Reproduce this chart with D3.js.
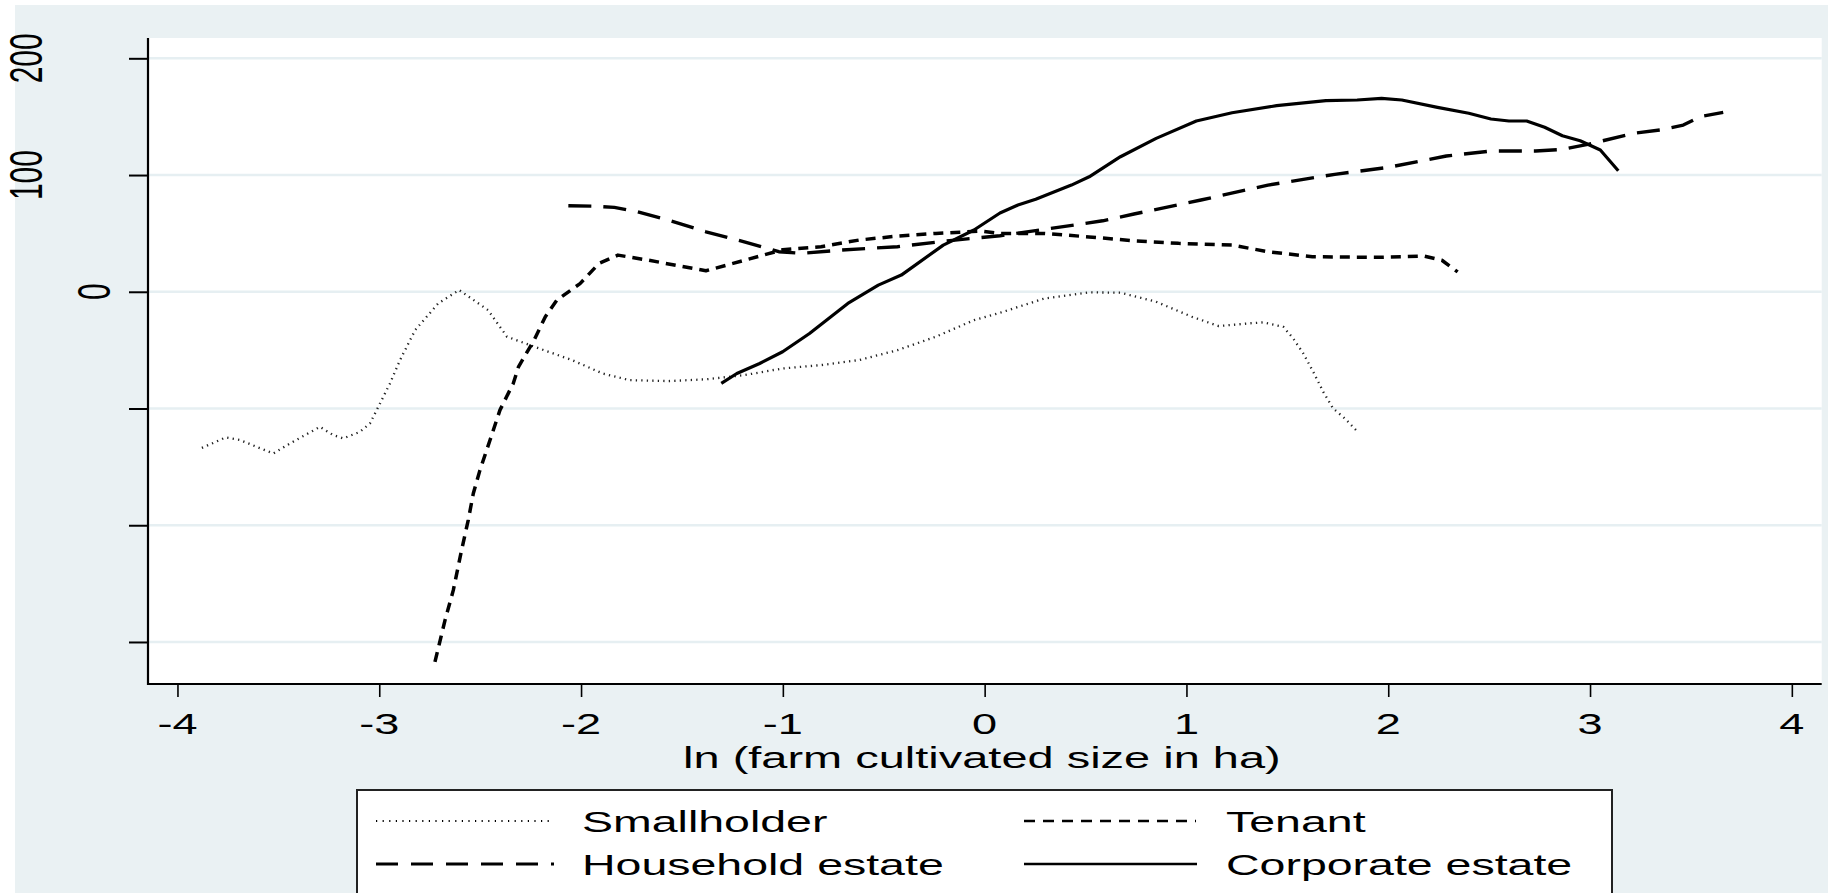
<!DOCTYPE html>
<html>
<head>
<meta charset="utf-8">
<script src="https://cdn.jsdelivr.net/npm/d3@7"></script>
<style>
html,body{margin:0;padding:0;background:#fff;}
svg{display:block;}
text{font-family:"Liberation Sans",Arial,Helvetica,sans-serif;fill:#000;}
</style>
</head>
<body>
<svg id="chart" width="1828" height="893"></svg>
<script>
// ---- data ----
const smallholderX = [-3.879,-3.761,-3.690,-3.591,-3.525,-3.443,-3.294,-3.228,-3.178,-3.096,-3.046,-2.996,-2.947,-2.897,-2.822,-2.708,-2.604,-2.461,-2.367,-2.233,-2.045,-1.893,-1.760,-1.569,-1.381,-1.191,-1.001,-0.811,-0.622,-0.432,-0.242,-0.053,0.076,0.297,0.518,0.673,0.849,1.027,1.160,1.315,1.381,1.480,1.529,1.579,1.628,1.678,1.727,1.785,1.843];
const smallholderY = [-133.7,-124.8,-127,-134,-138.5,-130,-115.7,-122.8,-125.6,-120,-112.8,-95.6,-78.5,-58.5,-32.8,-10,1.5,-15.7,-38.5,-47,-58.5,-70,-75.7,-76.5,-75,-71.4,-65.7,-62.8,-58.5,-50,-38.5,-24.3,-18,-5.7,-0.5,-0.8,-8.5,-21.4,-29.4,-27,-26.2,-30,-40,-52.8,-68.5,-85.7,-100,-108.5,-119];

const tenantX = [-2.724,-2.674,-2.633,-2.592,-2.559,-2.534,-2.501,-2.451,-2.402,-2.336,-2.310,-2.233,-2.177,-2.119,-2.005,-1.911,-1.817,-1.665,-1.381,-1.247,-1.001,-0.811,-0.623,-0.432,-0.242,-0.015,0.076,0.297,0.517,0.740,0.961,1.226,1.404,1.624,1.954,2.177,2.266,2.344];
const tenantY = [-317,-281.3,-255.6,-221.3,-195.6,-172.8,-152.8,-127,-101.4,-78.5,-64.3,-41.4,-21.4,-7,7,24.3,31.4,27,18,24.3,36,38.6,44.3,47.7,50,52,50,50,47,43.7,41.5,40,34.3,30,29.5,30.6,27,17];

const householdX = [-2.063,-1.949,-1.835,-1.721,-1.569,-1.381,-1.191,-1.020,-0.906,-0.717,-0.432,-0.147,0.076,0.297,0.585,0.740,1.072,1.404,1.735,2.001,2.288,2.509,2.730,2.863,2.995,3.214,3.346,3.462,3.545,3.660];
const householdY = [73.7,73.4,72.3,68.6,61.4,51.4,42.8,34.3,32.9,35.7,38.6,44.3,48,53.5,60.8,66.6,78.6,91.4,100.6,106.6,116.3,120.6,120.6,122,126.5,135.7,138.6,142.8,150,153.7];

const corporateX = [-1.305,-1.228,-1.115,-1.001,-0.868,-0.678,-0.527,-0.413,-0.205,-0.053,0.076,0.165,0.253,0.430,0.518,0.673,0.850,1.049,1.226,1.447,1.691,1.846,1.967,2.067,2.244,2.399,2.509,2.598,2.686,2.775,2.863,2.951,3.051,3.140];
const corporateY = [-78.5,-70,-61.4,-51.4,-35.7,-10,5.7,14.3,40,52.9,67.5,74.3,79.2,91.4,98.5,115.7,131.4,146.3,153.4,159.4,163.7,164.3,165.7,164.3,158,152.9,148,146.3,146.3,140.9,133.7,129.4,121.4,103.7];

const xTicks = [-4,-3,-2,-1,0,1,2,3,4];
const yTicks = [200,100,0,-100,-200,-300];
const yTickLabels = ["200","100","0","","",""];
const xTitle = "ln (farm cultivated size in ha)";
const seriesNames = ["Smallholder","Tenant","Household estate","Corporate estate"];

// ---- layout ----
const svg = d3.select("#chart");
const W = 1828, H = 893;
const plotL = 148, plotR = 1821.7, plotT = 38, plotB = 684;
const SX = 1.55;      // horizontal stretch of the original rendering
const FS = 30;
const bg = "#eaf1f3";

const x = d3.scaleLinear().domain([-4.146, 4.148]).range([plotL, plotR]);
const y = d3.scaleLinear().domain([-336, 217.4]).range([plotB, plotT]);

// outer background
svg.append("rect").attr("x",0).attr("y",0).attr("width",W).attr("height",H).attr("fill","#fff");
svg.append("rect").attr("x",15).attr("y",5).attr("width",W-15).attr("height",H-5).attr("fill",bg);
// plot region
svg.append("rect").attr("x",plotL).attr("y",plotT).attr("width",plotR-plotL).attr("height",plotB-plotT).attr("fill","#fff");

// gridlines
svg.append("g").selectAll("line").data(yTicks).join("line")
  .attr("x1",plotL).attr("x2",plotR)
  .attr("y1",d=>y(d)).attr("y2",d=>y(d))
  .attr("stroke","#e6eff2").attr("stroke-width",2.6);

// y axis
const yAxis = d3.axisLeft(y).tickValues(yTicks).tickSize(19).tickFormat("");
const gy = svg.append("g").attr("transform",`translate(${plotL},0)`).call(yAxis);
gy.select(".domain").remove();
gy.selectAll(".tick line").attr("stroke","#000").attr("stroke-width",2);
svg.append("line").attr("x1",plotL).attr("x2",plotL).attr("y1",plotT).attr("y2",plotB+1)
  .attr("stroke","#000").attr("stroke-width",2.2);

// y tick labels (rotated, stretched)
const yLabelBase = {"200":42,"100":42,"0":110};
svg.append("g").selectAll("text").data(yTicks.filter((d,i)=>yTickLabels[i]!=="")).join("text")
  .attr("transform",(d)=>{
    const lab = yTickLabels[yTicks.indexOf(d)];
    return `translate(${yLabelBase[lab]},${y(d)}) scale(${SX},1) rotate(-90)`;
  })
  .attr("text-anchor","middle")
  .attr("font-size",FS)
  .text(d=>yTickLabels[yTicks.indexOf(d)]);

// x axis
const xAxis = d3.axisBottom(x).tickValues(xTicks).tickSize(13).tickFormat("");
const gx = svg.append("g").attr("transform",`translate(0,${plotB})`).call(xAxis);
gx.select(".domain").remove();
gx.selectAll(".tick line").attr("stroke","#000").attr("stroke-width",1.6);
svg.append("line").attr("x1",plotL-1).attr("x2",plotR).attr("y1",plotB).attr("y2",plotB)
  .attr("stroke","#000").attr("stroke-width",2);

svg.append("g").selectAll("text").data(xTicks).join("text")
  .attr("transform",d=>`translate(${x(d)},734) scale(${SX},1)`)
  .attr("text-anchor","middle")
  .attr("font-size",FS*0.97)
  .text(d=>String(d));

svg.append("text")
  .attr("transform",`translate(${(plotL+plotR)/2-3},768) scale(${SX},1)`)
  .attr("text-anchor","middle")
  .attr("font-size",FS*1.01)
  .text(xTitle);

// ---- lines ----
const line = d3.line().x(d=>x(d[0])).y(d=>y(d[1]));
const styles = {
  "Smallholder":      {w:2.3, dash:"1.3 4.2", col:"#222"},
  "Tenant":           {w:3.5, dash:"10 7", col:"#000"},
  "Household estate": {w:3.4, dash:"23 12", col:"#000"},
  "Corporate estate": {w:3.2, dash:null, col:"#000"}
};
const seriesData = [
  ["Smallholder", d3.zip(smallholderX, smallholderY)],
  ["Tenant", d3.zip(tenantX, tenantY)],
  ["Household estate", d3.zip(householdX, householdY)],
  ["Corporate estate", d3.zip(corporateX, corporateY)]
];
svg.append("g").selectAll("path").data(seriesData).join("path")
  .attr("d",d=>line(d[1]))
  .attr("fill","none")
  .attr("stroke",d=>styles[d[0]].col)
  .attr("stroke-width",d=>styles[d[0]].w)
  .attr("stroke-dasharray",d=>styles[d[0]].dash)
  .attr("stroke-linejoin","round");

// ---- legend ----
const lg = svg.append("g");
lg.append("rect").attr("x",357).attr("y",790).attr("width",1612-357).attr("height",120)
  .attr("fill","#fff").attr("stroke","#222").attr("stroke-width",2);
const legendPos = [
  {name:"Smallholder", sx:376, ex:554, tx:582, cy:821, dash:"1.2 5.4", w:2},
  {name:"Tenant", sx:1024, ex:1196, tx:1226, cy:821, dash:"11 8", w:2.6},
  {name:"Household estate", sx:376, ex:554, tx:582, cy:864, dash:"22 13", w:2.8},
  {name:"Corporate estate", sx:1024, ex:1197, tx:1226, cy:864, dash:null, w:2.6}
];
lg.selectAll("line").data(legendPos).join("line")
  .attr("x1",d=>d.sx).attr("x2",d=>d.ex).attr("y1",d=>d.cy).attr("y2",d=>d.cy)
  .attr("stroke","#000").attr("stroke-width",d=>d.w).attr("stroke-dasharray",d=>d.dash);
lg.selectAll("text").data(legendPos).join("text")
  .attr("transform",d=>`translate(${d.tx},${d.cy+11}) scale(${SX},1)`)
  .attr("font-size",FS)
  .text(d=>d.name);
</script>
</body>
</html>
